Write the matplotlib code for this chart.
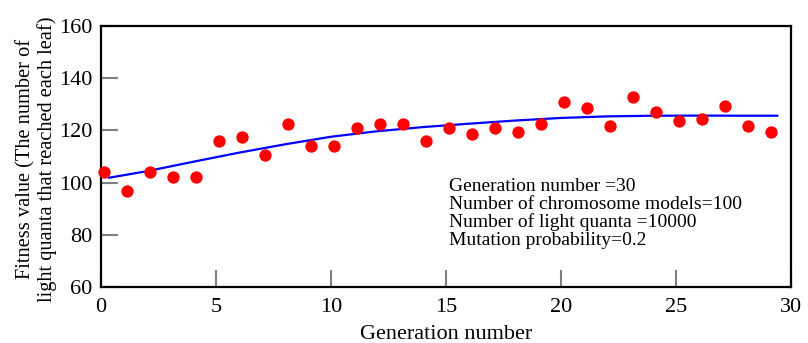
import matplotlib
matplotlib.use('Agg')
import matplotlib.pyplot as plt

# --------------------- Data --------------------- #
generation = [0.15, 1.15, 2.15, 3.15, 4.15, 5.15, 6.15, 7.15, 8.15, 9.15,
              10.15, 11.15, 12.15, 13.15, 14.15, 15.15, 16.15, 17.15, 18.15, 19.15,
              20.15, 21.15, 22.15, 23.15, 24.15, 25.15, 26.15, 27.15, 28.15, 29.15]
fitness = [104.0, 97.0, 104.0, 102.0, 102.0, 116.0, 117.5, 110.5, 122.5, 114.0,
           114.0, 121.0, 122.5, 122.5, 116.0, 121.0, 118.6, 121.0, 119.4, 122.5,
           131.0, 128.6, 121.7, 132.8, 127.0, 123.6, 124.4, 129.3, 121.7, 119.4]

# trend curve
trend_x = [0.35, 2, 4, 6, 8, 10, 12, 14, 16, 18, 20, 22, 24, 26, 28, 29.4]
trend_y = [101.9, 104.4, 108.0, 111.5, 114.7, 117.6, 119.7, 121.3, 122.6, 123.8,
           124.8, 125.4, 125.65, 125.7, 125.65, 125.65]

notes = ["Generation number =30",
         "Number of chromosome models=100",
         "Number of light quanta =10000",
         "Mutation probability=0.2"]

plt.rcParams['font.family'] = ['Liberation Serif', 'DejaVu Serif']

fig = plt.figure(figsize=(8.08, 3.43), dpi=100)
ax = fig.add_axes([0.125, 0.163, 0.854, 0.761])

ax.plot(trend_x, trend_y, color='#0000ff', lw=1.6, zorder=2)
ax.scatter(generation, fitness, s=62, color='#ff0000', zorder=3, clip_on=False)

ax.set_xlim(0, 30)
ax.set_ylim(60, 160)
ax.set_xticks(range(0, 31, 5))
ax.set_yticks(range(60, 161, 20))
ax.tick_params(direction='in', length=12, width=1.5, color='#808080',
               labelsize=16)
ax.tick_params(axis='x', pad=7.5)
ax.tick_params(axis='y', pad=6)
for sp in ax.spines.values():
    sp.set_linewidth(1.6)

ax.set_xlabel("Generation number", fontsize=16, labelpad=6)
ax.set_ylabel("Fitness value (The number of\nlight quanta that reached each leaf)",
              fontsize=14.7, linespacing=1.1)
ax.yaxis.set_label_coords(-0.064, 0.49)

ax.text(15.15, 101.8, "\n".join(notes), fontsize=14, va='top', ha='left',
        linespacing=1.05)

fig.savefig('out.png', dpi=100)
